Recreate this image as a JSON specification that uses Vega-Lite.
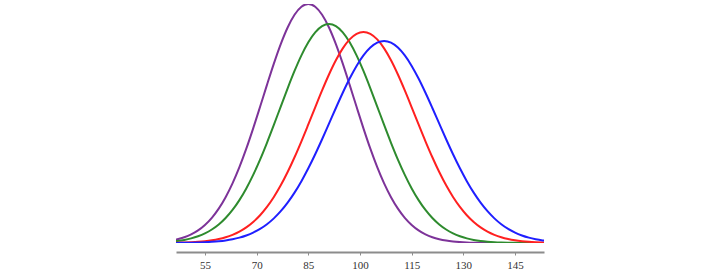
{
  "$schema": "https://vega.github.io/schema/vega-lite/v6.json",
  "autosize": "none",
  "width": 368,
  "height": 239,
  "padding": {"left": 176, "top": 4, "right": 176, "bottom": 34},
  "background": "white",
  "config": {"view": {"stroke": null}},
  "data": {"values": [
    {"s":"P","x":45,"y":1.01},{"s":"P","x":47,"y":1.59},{"s":"P","x":49,"y":2.43},{"s":"P","x":51,"y":3.63},{"s":"P","x":53,"y":5.29},{"s":"P","x":55,"y":7.56},{"s":"P","x":57,"y":10.54},{"s":"P","x":59,"y":14.37},{"s":"P","x":61,"y":19.15},{"s":"P","x":63,"y":24.94},{"s":"P","x":65,"y":31.73},{"s":"P","x":67,"y":39.46},{"s":"P","x":69,"y":47.97},{"s":"P","x":71,"y":56.98},{"s":"P","x":73,"y":66.15},{"s":"P","x":75,"y":75.06},{"s":"P","x":77,"y":83.22},{"s":"P","x":79,"y":90.18},{"s":"P","x":81,"y":95.51},{"s":"P","x":83,"y":98.86},{"s":"P","x":85,"y":100},{"s":"P","x":87,"y":98.86},{"s":"P","x":89,"y":95.51},{"s":"P","x":91,"y":90.18},{"s":"P","x":93,"y":83.22},{"s":"P","x":95,"y":75.06},{"s":"P","x":97,"y":66.15},{"s":"P","x":99,"y":56.98},{"s":"P","x":101,"y":47.97},{"s":"P","x":103,"y":39.46},{"s":"P","x":105,"y":31.73},{"s":"P","x":107,"y":24.94},{"s":"P","x":109,"y":19.15},{"s":"P","x":111,"y":14.37},{"s":"P","x":113,"y":10.54},{"s":"P","x":115,"y":7.56},{"s":"P","x":117,"y":5.29},{"s":"P","x":119,"y":3.63},{"s":"P","x":121,"y":2.43},{"s":"P","x":123,"y":1.59},{"s":"P","x":125,"y":1.01},{"s":"P","x":127,"y":0.63},{"s":"P","x":129,"y":0.39},{"s":"P","x":131,"y":0.23},{"s":"P","x":133,"y":0.13},{"s":"P","x":135,"y":0.08},{"s":"P","x":137,"y":0.04},{"s":"P","x":139,"y":0.02},{"s":"P","x":141,"y":0.01},{"s":"P","x":143,"y":0.01},{"s":"P","x":145,"y":0},{"s":"P","x":147,"y":0},{"s":"P","x":149,"y":0},{"s":"P","x":151,"y":0},{"s":"P","x":153,"y":0},{"s":"P","x":155,"y":0},
    {"s":"G","x":45,"y":0.56},{"s":"G","x":47,"y":0.86},{"s":"G","x":49,"y":1.3},{"s":"G","x":51,"y":1.93},{"s":"G","x":53,"y":2.82},{"s":"G","x":55,"y":4.03},{"s":"G","x":57,"y":5.64},{"s":"G","x":59,"y":7.75},{"s":"G","x":61,"y":10.46},{"s":"G","x":63,"y":13.83},{"s":"G","x":65,"y":17.95},{"s":"G","x":67,"y":22.84},{"s":"G","x":69,"y":28.51},{"s":"G","x":71,"y":34.91},{"s":"G","x":73,"y":41.94},{"s":"G","x":75,"y":49.41},{"s":"G","x":77,"y":57.1},{"s":"G","x":79,"y":64.73},{"s":"G","x":81,"y":71.98},{"s":"G","x":83,"y":78.5},{"s":"G","x":85,"y":83.98},{"s":"G","x":87,"y":88.13},{"s":"G","x":89,"y":90.72},{"s":"G","x":91,"y":91.6},{"s":"G","x":93,"y":90.72},{"s":"G","x":95,"y":88.13},{"s":"G","x":97,"y":83.98},{"s":"G","x":99,"y":78.5},{"s":"G","x":101,"y":71.98},{"s":"G","x":103,"y":64.73},{"s":"G","x":105,"y":57.1},{"s":"G","x":107,"y":49.41},{"s":"G","x":109,"y":41.94},{"s":"G","x":111,"y":34.91},{"s":"G","x":113,"y":28.51},{"s":"G","x":115,"y":22.84},{"s":"G","x":117,"y":17.95},{"s":"G","x":119,"y":13.83},{"s":"G","x":121,"y":10.46},{"s":"G","x":123,"y":7.75},{"s":"G","x":125,"y":5.64},{"s":"G","x":127,"y":4.03},{"s":"G","x":129,"y":2.82},{"s":"G","x":131,"y":1.93},{"s":"G","x":133,"y":1.3},{"s":"G","x":135,"y":0.86},{"s":"G","x":137,"y":0.56},{"s":"G","x":139,"y":0.35},{"s":"G","x":141,"y":0.22},{"s":"G","x":143,"y":0.13},{"s":"G","x":145,"y":0.08},{"s":"G","x":147,"y":0.05},{"s":"G","x":149,"y":0.03},{"s":"G","x":151,"y":0.02},{"s":"G","x":153,"y":0.01},{"s":"G","x":155,"y":0.01},
    {"s":"R","x":45,"y":0.08},{"s":"R","x":47,"y":0.12},{"s":"R","x":49,"y":0.2},{"s":"R","x":51,"y":0.32},{"s":"R","x":53,"y":0.49},{"s":"R","x":55,"y":0.75},{"s":"R","x":57,"y":1.13},{"s":"R","x":59,"y":1.66},{"s":"R","x":61,"y":2.4},{"s":"R","x":63,"y":3.42},{"s":"R","x":65,"y":4.77},{"s":"R","x":67,"y":6.54},{"s":"R","x":69,"y":8.8},{"s":"R","x":71,"y":11.63},{"s":"R","x":73,"y":15.11},{"s":"R","x":75,"y":19.27},{"s":"R","x":77,"y":24.13},{"s":"R","x":79,"y":29.69},{"s":"R","x":81,"y":35.87},{"s":"R","x":83,"y":42.56},{"s":"R","x":85,"y":49.61},{"s":"R","x":87,"y":56.79},{"s":"R","x":89,"y":63.84},{"s":"R","x":91,"y":70.49},{"s":"R","x":93,"y":76.45},{"s":"R","x":95,"y":81.42},{"s":"R","x":97,"y":85.18},{"s":"R","x":99,"y":87.51},{"s":"R","x":101,"y":88.3},{"s":"R","x":103,"y":87.51},{"s":"R","x":105,"y":85.18},{"s":"R","x":107,"y":81.42},{"s":"R","x":109,"y":76.45},{"s":"R","x":111,"y":70.49},{"s":"R","x":113,"y":63.84},{"s":"R","x":115,"y":56.79},{"s":"R","x":117,"y":49.61},{"s":"R","x":119,"y":42.56},{"s":"R","x":121,"y":35.87},{"s":"R","x":123,"y":29.69},{"s":"R","x":125,"y":24.13},{"s":"R","x":127,"y":19.27},{"s":"R","x":129,"y":15.11},{"s":"R","x":131,"y":11.63},{"s":"R","x":133,"y":8.8},{"s":"R","x":135,"y":6.54},{"s":"R","x":137,"y":4.77},{"s":"R","x":139,"y":3.42},{"s":"R","x":141,"y":2.4},{"s":"R","x":143,"y":1.66},{"s":"R","x":145,"y":1.13},{"s":"R","x":147,"y":0.75},{"s":"R","x":149,"y":0.49},{"s":"R","x":151,"y":0.32},{"s":"R","x":153,"y":0.2},{"s":"R","x":155,"y":0.12},
    {"s":"B","x":45,"y":0.03},{"s":"B","x":47,"y":0.05},{"s":"B","x":49,"y":0.08},{"s":"B","x":51,"y":0.13},{"s":"B","x":53,"y":0.21},{"s":"B","x":55,"y":0.33},{"s":"B","x":57,"y":0.5},{"s":"B","x":59,"y":0.74},{"s":"B","x":61,"y":1.09},{"s":"B","x":63,"y":1.58},{"s":"B","x":65,"y":2.25},{"s":"B","x":67,"y":3.16},{"s":"B","x":69,"y":4.35},{"s":"B","x":71,"y":5.89},{"s":"B","x":73,"y":7.86},{"s":"B","x":75,"y":10.31},{"s":"B","x":77,"y":13.3},{"s":"B","x":79,"y":16.88},{"s":"B","x":81,"y":21.07},{"s":"B","x":83,"y":25.88},{"s":"B","x":85,"y":31.26},{"s":"B","x":87,"y":37.15},{"s":"B","x":89,"y":43.42},{"s":"B","x":91,"y":49.94},{"s":"B","x":93,"y":56.49},{"s":"B","x":95,"y":62.86},{"s":"B","x":97,"y":68.81},{"s":"B","x":99,"y":74.09},{"s":"B","x":101,"y":78.48},{"s":"B","x":103,"y":81.77},{"s":"B","x":105,"y":83.81},{"s":"B","x":107,"y":84.5},{"s":"B","x":109,"y":83.81},{"s":"B","x":111,"y":81.77},{"s":"B","x":113,"y":78.48},{"s":"B","x":115,"y":74.09},{"s":"B","x":117,"y":68.81},{"s":"B","x":119,"y":62.86},{"s":"B","x":121,"y":56.49},{"s":"B","x":123,"y":49.94},{"s":"B","x":125,"y":43.42},{"s":"B","x":127,"y":37.15},{"s":"B","x":129,"y":31.26},{"s":"B","x":131,"y":25.88},{"s":"B","x":133,"y":21.07},{"s":"B","x":135,"y":16.88},{"s":"B","x":137,"y":13.3},{"s":"B","x":139,"y":10.31},{"s":"B","x":141,"y":7.86},{"s":"B","x":143,"y":5.89},{"s":"B","x":145,"y":4.35},{"s":"B","x":147,"y":3.16},{"s":"B","x":149,"y":2.25},{"s":"B","x":151,"y":1.58},{"s":"B","x":153,"y":1.09},{"s":"B","x":155,"y":0.74}
  ]},
  "mark": {"type": "line", "interpolate": "monotone", "strokeWidth": 2, "clip": true},
  "encoding": {
    "x": {
      "field": "x", "type": "quantitative",
      "scale": {"domain": [46.6, 153.4], "nice": false, "zero": false},
      "axis": {
        "title": null, "values": [55, 70, 85, 100, 115, 130, 145], "grid": false,
        "offset": 9, "domainColor": "#8c8c8c", "domainWidth": 2,
        "tickColor": "#8c8c8c", "tickSize": 3, "tickWidth": 1,
        "labelFont": "Liberation Serif", "labelFontSize": 11, "labelColor": "#333333",
        "labelPadding": 4
      }
    },
    "y": {
      "field": "y", "type": "quantitative",
      "scale": {"domain": [0, 100], "nice": false},
      "axis": null
    },
    "color": {
      "field": "s", "type": "nominal",
      "scale": {"domain": ["P", "G", "R", "B"], "range": ["#7d3399", "#2e8b2e", "#ff2020", "#1f1fff"]},
      "legend": null
    }
  }
}
